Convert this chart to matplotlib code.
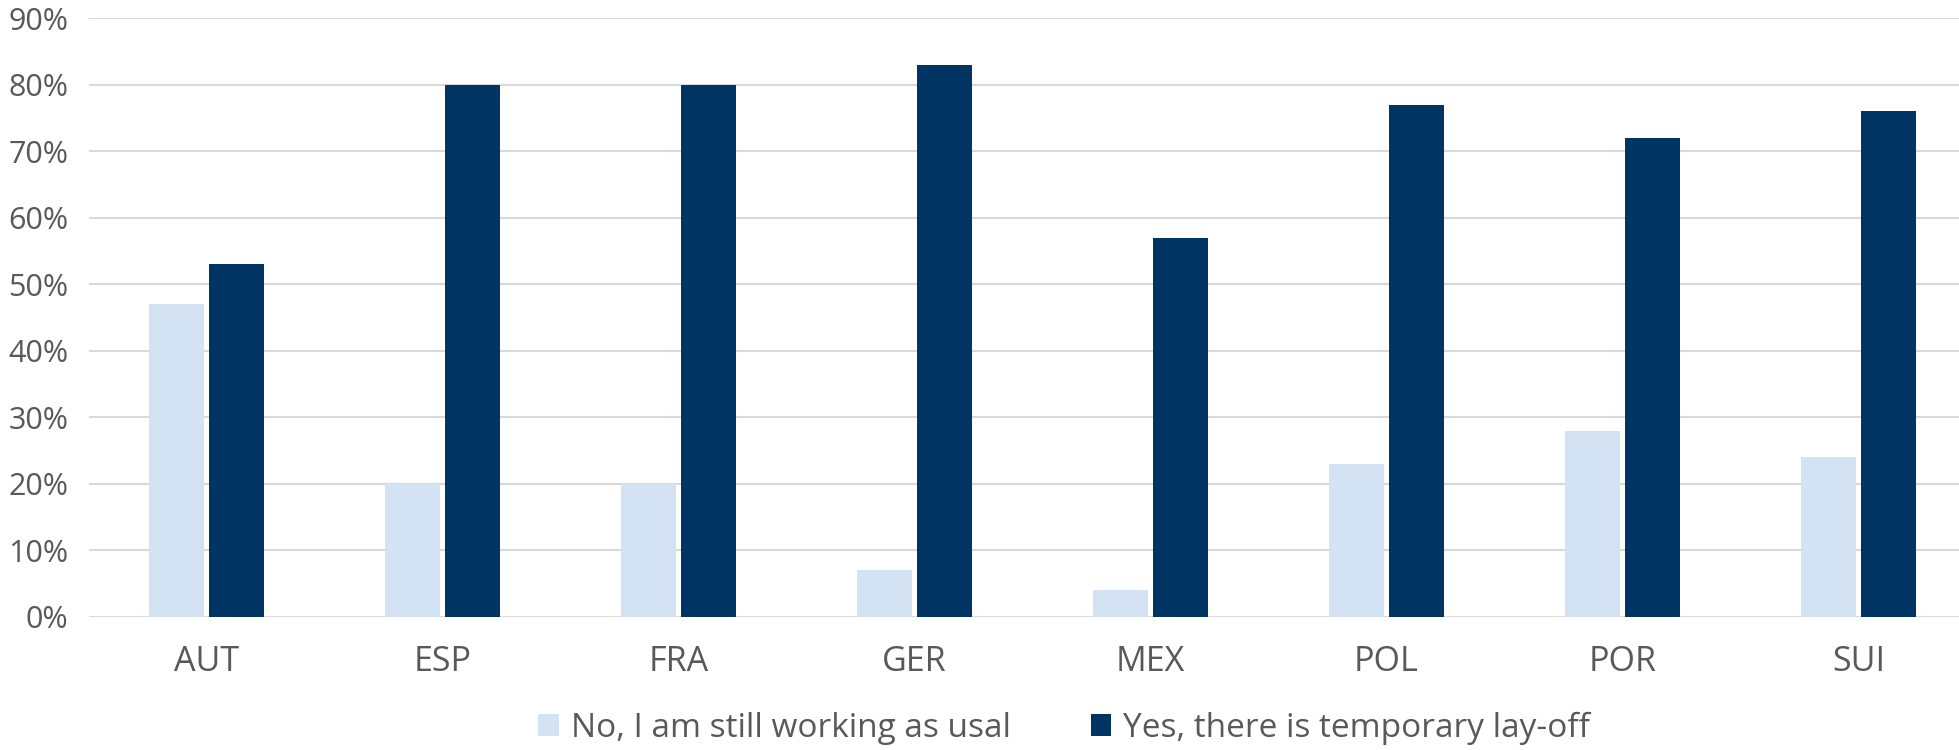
import numpy as np
import matplotlib
matplotlib.use("Agg")
import matplotlib.pyplot as plt
from matplotlib.ticker import PercentFormatter

countries = ["AUT", "ESP", "FRA", "GER", "MEX", "POL", "POR", "SUI"]
still_working = [47, 20, 20, 7, 4, 23, 28, 24]
temp_layoff = [53, 80, 80, 83, 57, 77, 72, 76]
series_labels = ["No, I am still working as usal", "Yes, there is temporary lay-off"]
colors = ["#D3E3F4", "#003462"]
text_color = "#595959"

plt.rcParams['font.family'] = ['Open Sans', 'DejaVu Sans']

fig = plt.figure(figsize=(19.59, 7.5), dpi=100)
# plot area runs a little past the right edge of the image
ax = fig.add_axes([88.5 / 1959, 1 - 617 / 750, 8 * 236 / 1959, (617 - 18) / 750])

x = np.arange(len(countries))
w = 0.233
off = 0.127
ax.bar(x - off, still_working, width=w, color=colors[0], label=series_labels[0], zorder=3)
ax.bar(x + off, temp_layoff, width=w, color=colors[1], label=series_labels[1], zorder=3)

ax.set_xlim(-0.5, len(countries) - 0.5)
ax.set_ylim(0, 90)
ax.set_yticks(np.arange(0, 91, 10))
ax.yaxis.set_major_formatter(PercentFormatter(decimals=0))
ax.set_xticks(x)
ax.set_xticklabels(countries)

ax.grid(axis='y', color='#D9D9D9', linewidth=1.5, zorder=0)
for s in ax.spines.values():
    s.set_visible(False)
ax.tick_params(axis='both', length=0, colors=text_color)
ax.tick_params(axis='y', labelsize=22, pad=14.5)
ax.tick_params(axis='x', labelsize=24.5, pad=20)

leg = fig.legend(loc='center', bbox_to_anchor=(1064 / 1959, 1 - 728 / 750), ncol=2,
                 frameon=False, fontsize=24, handlelength=0.62, handleheight=0.62,
                 handletextpad=0.35, columnspacing=2.4)
for t in leg.get_texts():
    t.set_color(text_color)

fig.savefig("out.png", dpi=100)
